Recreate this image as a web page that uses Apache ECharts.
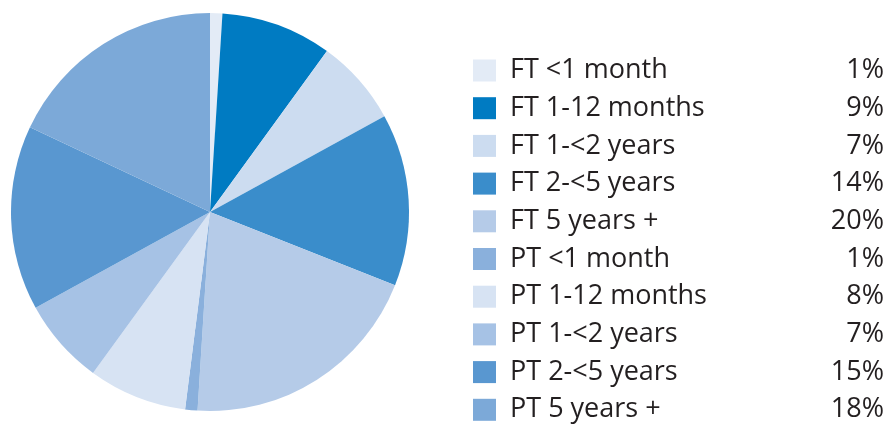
<!DOCTYPE html>
<html>
<head>
<meta charset="utf-8">
<script src="https://cdn.jsdelivr.net/npm/echarts@6/dist/echarts.min.js"></script>
<style>
  html, body { margin: 0; padding: 0; background: #fff; }
  #main { width: 890px; height: 427px; }
</style>
</head>
<body>
<div id="main"></div>
<script>
// data
var categories = ['FT <1 month', 'FT 1-12 months', 'FT 1-<2 years', 'FT 2-<5 years', 'FT 5 years +',
                  'PT <1 month', 'PT 1-12 months', 'PT 1-<2 years', 'PT 2-<5 years', 'PT 5 years +'];
var shares = [1, 9, 7, 14, 20, 1, 8, 7, 15, 18];
var colors = ['#e3ebf6', '#007bc2', '#ccdcf0', '#3a8dcb', '#b5cbe8',
              '#8ab0dc', '#d7e3f3', '#a6c2e5', '#5997d0', '#7ca9d8'];

var myChart = echarts.init(document.getElementById('main'));

var pieData = categories.map(function (name, i) {
    return { name: name, value: shares[i], itemStyle: { color: colors[i] } };
});

var font = 'Open Sans';

var option = {
    animation: false,
    legend: {
        orient: 'vertical',
        left: 473,
        top: 57,
        padding: 0,
        itemWidth: 23,
        itemHeight: 22,
        itemGap: 10.7,
        selectedMode: false,
        icon: 'rect',
        data: categories,
        formatter: function (name) {
            var i = categories.indexOf(name);
            return '{n|' + name + '}{p|' + shares[i] + '%}';
        },
        textStyle: {
            color: '#231f20',
            fontFamily: font,
            fontSize: 27,
            lineHeight: 22,
            rich: {
                n: { width: 318, padding: [0, 0, 0, 9], fontFamily: font, fontSize: 27, lineHeight: 22, color: '#231f20' },
                p: { width: 56, align: 'right', fontFamily: font, fontSize: 27, lineHeight: 22, color: '#231f20' }
            }
        }
    },
    series: [
        {
            name: 'Tenure',
            type: 'pie',
            center: [210, 212],
            radius: 199,
            startAngle: 90,
            clockwise: true,
            silent: true,
            label: { show: false },
            labelLine: { show: false },
            itemStyle: { borderWidth: 0 },
            data: pieData
        }
    ]
};
myChart.setOption(option);
</script>
</body>
</html>
